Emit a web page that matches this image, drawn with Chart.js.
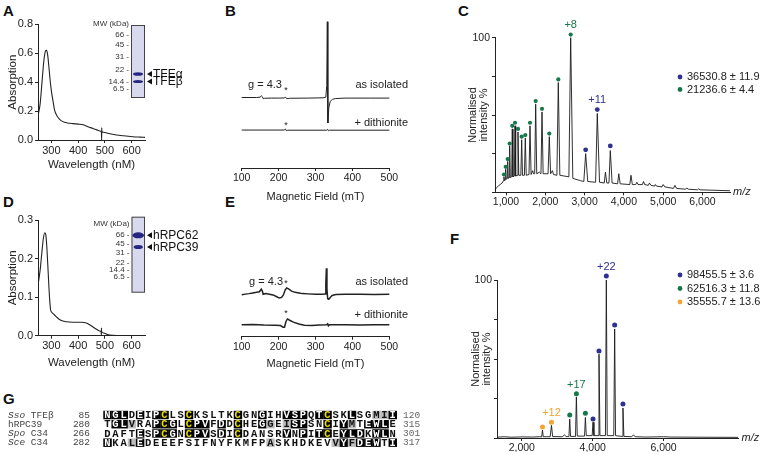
<!DOCTYPE html>
<html>
<head>
<meta charset="utf-8">
<script src="https://cdn.jsdelivr.net/npm/chart.js@4.4.0/dist/chart.umd.min.js"></script>
<style>
  body { margin: 0; background: #fff; width: 760px; height: 454px; position: relative; overflow: hidden; }
  canvas { position: absolute; }
  .lab { position: absolute; font: bold 15px 'Liberation Sans', Arial, sans-serif; line-height: 1; color: #111; }
</style>
</head>
<body>
<div class="lab" style="left:3px;top:3px">A</div>
<div class="lab" style="left:225px;top:3px">B</div>
<div class="lab" style="left:458px;top:3px">C</div>
<div class="lab" style="left:3px;top:194px">D</div>
<div class="lab" style="left:225px;top:194px">E</div>
<div class="lab" style="left:450px;top:231px">F</div>
<div class="lab" style="left:3px;top:391px">G</div>

<canvas id="chartA" width="200" height="200" style="left:0;top:0"></canvas>
<canvas id="chartB" width="220" height="210" style="left:200px;top:0"></canvas>
<canvas id="chartC" width="340" height="215" style="left:420px;top:0"></canvas>
<canvas id="chartD" width="200" height="200" style="left:0;top:200px"></canvas>
<canvas id="chartE" width="220" height="200" style="left:200px;top:200px"></canvas>
<canvas id="chartF" width="320" height="234" style="left:440px;top:220px"></canvas>
<canvas id="chartG" width="440" height="66" style="left:0;top:388px"></canvas>

<script>
// ---------- data ----------
// A / D: UV-vis absorption
const wlTicks = [300, 400, 500, 600];
const wlA = [250, 258, 265, 272, 278, 282, 286, 290, 295, 300, 306, 312, 320, 330, 343, 360, 380, 400, 420, 437,
             455, 470, 481, 487, 488, 488.3, 488.6, 495, 510, 543, 570, 605, 630, 650];
const absA = [0.166, 0.25, 0.40, 0.55, 0.615, 0.62, 0.59, 0.52, 0.42, 0.34, 0.27, 0.207, 0.17, 0.145, 0.127, 0.118, 0.113, 0.11, 0.105, 0.092,
              0.08, 0.07, 0.062, 0.059, 0.0, 0.085, 0.057, 0.054, 0.047, 0.035, 0.029, 0.023, 0.020, 0.018];
const absATicks = [0, 0.2, 0.4, 0.6, 0.8];
const wlD = [250, 258, 265, 270, 275, 279, 283, 288, 293, 297, 302, 310, 320, 335, 356, 380, 410, 431, 450, 470,
             481, 486, 487, 487.3, 487.6, 495, 510, 530, 560, 600, 650];
const absD = [0.131, 0.17, 0.22, 0.252, 0.267, 0.262, 0.23, 0.165, 0.10, 0.068, 0.060, 0.055, 0.048, 0.040, 0.036, 0.035, 0.035, 0.033, 0.025, 0.016,
              0.012, 0.011, 0.0, 0.02, 0.010, 0.007, 0.003, 0.001, 0, 0, 0];
const absDTicks = [0, 0.1, 0.2, 0.3];
const mwLabels = ['66', '45', '31', '22', '14.4', '6.5'];
const gelBandsA = ['TFE\u03b1', 'TFE\u03b2'];
const gelBandsD = ['hRPC62', 'hRPC39'];

// B / E: EPR spectra (relative signal, offset traces)
const fieldTicks = [100, 150, 200, 250, 300, 350, 400, 450, 500];
const bIsoField = [100, 140, 150, 153, 156, 158, 162, 180, 200, 215, 219, 222, 230, 280, 320, 328, 330.5, 332, 333.5, 336, 340, 346, 355, 380, 450, 500];
const bIsoSig   = [0.47, 0.47, 0.472, 0.482, 0.475, 0.462, 0.465, 0.466, 0.466, 0.467, 0.472, 0.462, 0.465, 0.466, 0.468, 0.472, 0.55, 0.975, 0.30, 0.40, 0.445, 0.458, 0.463, 0.466, 0.466, 0.466];
const bDitField = [100, 215, 218.5, 221, 225, 330, 333, 335, 338, 500];
const bDitSig   = [0.253, 0.253, 0.26, 0.249, 0.252, 0.252, 0.258, 0.248, 0.252, 0.252];
const eIsoField = [100, 110, 120, 130, 140, 148, 153, 156, 158, 165, 175, 185, 195, 202, 208, 213, 218, 222, 228, 235,
                   245, 255, 265, 280, 300, 320, 326, 328, 329.5, 331, 333, 336, 340, 345, 355, 380, 420, 460, 500];
const eIsoSig   = [0.332, 0.336, 0.34, 0.345, 0.35, 0.355, 0.375, 0.36, 0.335, 0.34, 0.335, 0.33, 0.315, 0.305, 0.31, 0.33, 0.37, 0.385, 0.375, 0.36,
                   0.35, 0.345, 0.34, 0.338, 0.335, 0.335, 0.338, 0.42, 0.54, 0.38, 0.30, 0.295, 0.31, 0.325, 0.333, 0.336, 0.335, 0.334, 0.335];
const eDitField = [100, 130, 160, 190, 205, 212, 216, 220, 224, 230, 240, 255, 270, 290, 310, 330, 333, 335, 338, 380, 420, 460, 500];
const eDitSig   = [0.094, 0.096, 0.092, 0.09, 0.088, 0.075, 0.075, 0.12, 0.14, 0.13, 0.115, 0.10, 0.09, 0.088, 0.092, 0.094, 0.102, 0.085, 0.094, 0.095, 0.093, 0.094, 0.094];

// C: native MS of TFE
const cMzTicks = [1000, 2000, 3000, 4000, 5000, 6000];
const intTicks = [0, 25, 50, 75, 100];
const cMz  = [720, 760, 800, 850, 900, 935, 948, 960, 980, 992, 1005, 1030, 1043, 1056, 1080, 1093, 1108, 1145, 1160, 1176,
              1212, 1229, 1246, 1285, 1305, 1325, 1378, 1399, 1420, 1468, 1491, 1515, 1585, 1611, 1638, 1680, 1700, 1730, 1755, 1782,
              1850, 1890, 1916, 1945, 2070, 2102, 2135, 2180, 2210, 2295, 2331, 2370, 2600, 2646, 2700, 2900, 2980, 3027, 3080, 3280,
              3323, 3380, 3500, 3530, 3565, 3620, 3654, 3700, 3840, 3870, 3905, 4150, 4180, 4215, 4300, 4330, 4360, 4470, 4500, 4530,
              4620, 4650, 4690, 4780, 4800, 4830, 4970, 5000, 5040, 5260, 5300, 5340, 5570, 5600, 5640, 5870, 5900, 5940, 6200, 6700];
const cInt = [1.5, 3, 4, 5, 6, 7.5, 10, 7.5, 8, 15, 8.5, 9, 20, 9, 9.5, 30, 9.5, 10, 41, 10,
              10.5, 43, 10.5, 11, 39, 11, 11, 34, 11, 11, 35, 11, 11.5, 43, 11.5, 14, 12, 12, 57, 12,
              13, 12, 52, 12, 12, 36, 12, 14, 11.5, 11, 71, 11, 10, 100, 9, 7.5, 7, 25, 7, 6.5,
              51, 6.5, 6, 13, 6, 6, 27, 6, 5.5, 12, 5.5, 5, 11, 5, 5, 6.5, 5, 5, 7, 5,
              4.5, 6, 4.5, 4, 5, 4, 3.5, 5, 3.5, 2.5, 4.5, 2.5, 2, 2.8, 2, 1.6, 2.2, 1.6, 1.4, 1];
const cGreenMz  = [948, 992, 1043, 1093, 1160, 1229, 1305, 1399, 1491, 1611, 1755, 1916, 2102, 2331, 2646];
const cGreenTop = [11.5, 16.5, 21.5, 31.5, 43, 45, 41, 36, 37, 45, 59, 54, 38, 73, 102];
const cBlueMz   = [3027, 3323, 3654];
const cBlueTop  = [27.5, 53.5, 30];
const cLegend = ['36530.8 \u00b1 11.9', '21236.6 \u00b1 4.4'];

// F: native MS of hRPC62/39
const fMzTicks = [2000, 4000, 6000];
const fMz  = [1300, 1500, 1700, 2000, 2300, 2500, 2560, 2583, 2605, 2800, 2837, 2870, 3150, 3200, 3250, 3330, 3352, 3375, 3515, 3540,
              3565, 3770, 3794, 3820, 3985, 4009, 4035, 4150, 4178, 4205, 4360, 4385, 4410, 4595, 4620, 4645, 4830, 4854, 4880, 5100,
              5150, 5200, 5500, 6000, 6200, 7000, 8100];
const fInt = [0.5, 0.8, 0.5, 0.7, 0.6, 0.8, 0.7, 5, 0.8, 0.8, 8, 0.9, 0.8, 2, 0.9, 0.9, 12, 1, 1, 26,
              1.2, 1.2, 13, 1.5, 1.5, 10, 1.5, 1.5, 53, 1.5, 1.5, 100, 1.5, 1.5, 69, 1.5, 1, 19, 1, 0.8,
              2, 0.8, 0.6, 0.8, 0.6, 0.5, 0.4];
const fBlueMz    = [4009, 4178, 4385, 4620, 4854];
const fBlueTop   = [12, 55, 102.5, 71.5, 21.5];
const fGreenMz   = [3352, 3540, 3794];
const fGreenTop  = [14.5, 28, 15.6];
const fOrangeMz  = [2583, 2837];
const fOrangeTop = [7, 10];
const fLegend = ['98455.5 \u00b1 3.6', '62516.3 \u00b1 11.8', '35555.7 \u00b1 13.6'];

// G: sequence alignment (b = identical, y = conserved Cys, g = similar)
const alnNames = [['Sso', ' TFE\u03b2'], ['', 'hRPC39'], ['Spo', ' C34'], ['Sce', ' C34']];
const alnStart = [85, 280, 266, 282];
const alnEnd = [120, 315, 301, 317];
const alnSeq = [
  'NGLDEIPCLSCKSLTKCGNGIHVSPQTCSKLSGMII',
  'TGLVRAPCGLCPVFDDCHEGGEISPSNCIYMTEWLE',
  'DAFTESPCGNCPVSDICDANSRVNPITCEYLDKWLN',
  'NKALEDEEEFSIFNYFKMFPASKHDKEVVYFDEWTI'
];
const alnShade = [
  'bbb.b.by..y.....y..b..bbb.by..b..ggb',
  '.bbg..byb.ybb.b.y..bg.gbb..y.bg.bbb.',
  '....b.byb.ybb.b.y.....b.b.by.bbb.bb.',
  'b..gb...............g.......gbgbbb.b'
];

// ---------- helpers ----------
const INK = '#222';
const BLUE = '#2e3192';
const GREEN = '#16784a';
const ORANGE = '#f5a332';
const SANS = "'Liberation Sans', Arial, sans-serif";
Chart.defaults.font.family = SANS;
Chart.defaults.color = INK;

const fixW = w => s => { s.width = w; };
const fixH = h => s => { s.height = h; };
const setTicks = arr => s => { s.ticks = arr.map(v => ({ value: v })); };
const xy = (xs, ys) => xs.map((x, i) => ({ x, y: ys[i] }));
const axisGrid = { drawOnChartArea: false, drawTicks: true, tickLength: 3, color: INK, lineWidth: 1 };
const axisBorder = { display: true, color: INK, width: 1 };
const baseOpts = { responsive: false, animation: false, devicePixelRatio: 1 };

// free text / dots placed by data value (x, y) or by pixel (px, py)
const notesPlugin = {
  id: 'notes',
  afterDatasetsDraw(chart, args, opts) {
    const ctx = chart.ctx, xs = chart.scales.x, ys = chart.scales.y;
    (opts.items || []).forEach(n => {
      const px = n.px !== undefined ? n.px : xs.getPixelForValue(n.x);
      const py = n.py !== undefined ? n.py : ys.getPixelForValue(n.y);
      ctx.save();
      ctx.fillStyle = n.color || INK;
      if (n.dot) {
        ctx.beginPath(); ctx.arc(px, py, n.dot, 0, Math.PI * 2); ctx.fill();
      } else {
        ctx.font = n.font || ('11px ' + SANS);
        ctx.textAlign = n.align || 'center';
        ctx.textBaseline = 'middle';
        ctx.fillText(n.text, px, py);
      }
      ctx.restore();
    });
  }
};

// SDS-PAGE inset
function gelPlugin(g) {
  return {
    id: 'gel',
    afterDraw(chart) {
      const ctx = chart.ctx;
      ctx.save();
      ctx.fillStyle = '#d8d8ee';
      ctx.fillRect(g.x, g.y, g.w, g.h);
      ctx.strokeStyle = '#444';
      ctx.lineWidth = 1;
      ctx.strokeRect(g.x + 0.5, g.y + 0.5, g.w - 1, g.h - 1);
      ctx.fillStyle = '#333';
      ctx.font = '8px ' + SANS;
      ctx.textAlign = 'right';
      ctx.textBaseline = 'middle';
      ctx.fillText('MW (kDa)', g.x - 2, g.mwTitleY);
      mwLabels.forEach((m, i) => ctx.fillText(m + ' -', g.x - 2, g.mwY[i]));
      g.bands.forEach((b, i) => {
        ctx.fillStyle = '#262680';
        ctx.beginPath();
        ctx.ellipse(g.x + g.w / 2, b.y, b.rx, b.ry, 0, 0, Math.PI * 2);
        ctx.fill();
        const ax = g.x + g.w + 2;
        ctx.fillStyle = '#111';
        ctx.beginPath();
        ctx.moveTo(ax, b.y); ctx.lineTo(ax + 5, b.y - 3); ctx.lineTo(ax + 5, b.y + 3); ctx.closePath();
        ctx.fill();
        ctx.font = '12px ' + SANS;
        ctx.textAlign = 'left';
        ctx.fillText(g.names[i], ax + 6, b.y + 0.5);
      });
      ctx.restore();
    }
  };
}

function absChart(id, xs, ys, yMax, yTicks, pad, xAxisH, gel) {
  return new Chart(document.getElementById(id), {
    type: 'line',
    data: { datasets: [{ data: xy(xs, ys), borderColor: INK, borderWidth: 1.1, pointRadius: 0, cubicInterpolationMode: 'monotone' }] },
    options: {
      ...baseOpts,
      layout: { padding: pad },
      plugins: { legend: { display: false }, tooltip: { enabled: false } },
      scales: {
        x: {
          type: 'linear', min: 250, max: 650, afterBuildTicks: setTicks(wlTicks), afterFit: fixH(xAxisH),
          grid: axisGrid, border: axisBorder,
          ticks: { font: { size: 11 }, color: INK, padding: 1, maxRotation: 0, callback: v => String(v) },
          title: { display: true, text: 'Wavelength (nM)', font: { size: 11.5 }, color: INK, padding: { top: 0, bottom: 4 } }
        },
        y: {
          min: 0, max: yMax, afterBuildTicks: setTicks(yTicks), afterFit: fixW(36.5),
          grid: axisGrid, border: axisBorder,
          ticks: { font: { size: 11 }, color: INK, padding: 2, callback: v => v.toFixed(1) },
          title: { display: true, text: 'Absorption', font: { size: 11.5 }, color: INK, padding: { top: 4, bottom: 0 } }
        }
      }
    },
    plugins: [gelPlugin(gel)]
  });
}

function eprChart(id, traces, pad, xAxisH, notes) {
  return new Chart(document.getElementById(id), {
    type: 'line',
    data: { datasets: traces.map(t => ({ data: xy(t.f, t.s), borderColor: INK, borderWidth: t.w, pointRadius: 0, tension: 0, clip: false })) },
    options: {
      ...baseOpts,
      layout: { padding: pad },
      plugins: { legend: { display: false }, tooltip: { enabled: false }, notes: { items: notes } },
      scales: {
        x: {
          type: 'linear', min: 100, max: 500, afterBuildTicks: setTicks(fieldTicks), afterFit: fixH(xAxisH),
          grid: axisGrid, border: axisBorder,
          ticks: { font: { size: 10.5 }, color: INK, padding: 1, maxRotation: 0, callback: v => (v % 100 === 0 ? String(v) : '') },
          title: { display: true, text: 'Magnetic Field (mT)', font: { size: 11 }, color: INK, padding: { top: 0, bottom: 4 } }
        },
        y: { display: false, min: 0, max: 1 }
      }
    },
    plugins: [notesPlugin]
  });
}

function msChart(id, spec, dots, xMin, xMax, xTicks, pad, yAxisW, xAxisH, notes) {
  const sets = dots.map(d => ({
    data: xy(d.mz, d.top), showLine: false, pointRadius: d.r, pointBackgroundColor: d.color,
    pointBorderColor: d.color, pointBorderWidth: 0, order: 1, clip: false
  }));
  sets.push({ data: xy(spec.mz, spec.int), borderColor: '#1a1a1a', borderWidth: 0.9, pointRadius: 0, tension: 0, order: 2, clip: false });
  return new Chart(document.getElementById(id), {
    type: 'line',
    data: { datasets: sets },
    options: {
      ...baseOpts,
      layout: { padding: pad },
      plugins: { legend: { display: false }, tooltip: { enabled: false }, notes: { items: notes } },
      scales: {
        x: {
          type: 'linear', min: xMin, max: xMax, afterBuildTicks: setTicks(xTicks), afterFit: fixH(xAxisH),
          grid: axisGrid, border: axisBorder,
          ticks: { font: { size: 10.5 }, color: INK, padding: 1, maxRotation: 0, callback: v => v.toLocaleString('en-US') }
        },
        y: {
          min: 0, max: 100, afterBuildTicks: setTicks(intTicks), afterFit: fixW(yAxisW),
          grid: axisGrid, border: axisBorder,
          ticks: { font: { size: 10.5 }, color: INK, padding: 2, callback: v => (v === 100 ? '100' : '') },
          title: { display: true, text: ['Normalised', 'intensity %'], font: { size: 11, lineHeight: 1.0 }, color: INK, padding: { top: 4, bottom: 0 } }
        }
      }
    },
    plugins: [notesPlugin]
  });
}

// ---------- A ----------
absChart('chartA', wlA, absA, 0.8, absATicks, { left: 1.5, top: 24.3, right: 55, bottom: 24.1 }, 35.9, {
  x: 131, y: 25, w: 14, h: 73, mwTitleY: 24, mwY: [35, 44.3, 57, 70, 81.5, 88.3],
  bands: [{ y: 74, rx: 5, ry: 1.8 }, { y: 81.5, rx: 5, ry: 1.6 }], names: gelBandsA
});

// ---------- D ----------
absChart('chartD', wlD, absD, 0.3, absDTicks, { left: 1.5, top: 20, right: 55, bottom: 25.8 }, 38.5, {
  x: 131.5, y: 16.7, w: 13.5, h: 76, mwTitleY: 24, mwY: [34.3, 43.3, 52.3, 62.3, 70, 76.7],
  bands: [{ y: 35.3, rx: 5.8, ry: 3 }, { y: 47, rx: 4.6, ry: 2 }], names: gelBandsD
});

// ---------- B ----------
eprChart('chartB',
  [{ f: bIsoField, s: bIsoSig, w: 1 }, { f: bDitField, s: bDitSig, w: 1 }],
  { left: 41.7, top: 18, right: 30.7, bottom: 2.4 }, 39.6,
  [
    { text: 'g = 4.3', x: 163, y: 0.553 },
    { text: '*', x: 220, y: 0.515, font: '9px ' + SANS },
    { text: 'as isolated', x: 550.7, y: 0.553, align: 'right' },
    { text: '+ dithionite', x: 550.7, y: 0.30, align: 'right' },
    { text: '*', x: 220, y: 0.282, font: '9px ' + SANS }
  ]);

// ---------- E ----------
eprChart('chartE',
  [{ f: eIsoField, s: eIsoSig, w: 1.5 }, { f: eDitField, s: eDitSig, w: 1.5 }],
  { left: 41.7, top: 10, right: 30.7, bottom: 25.4 }, 37.9,
  [
    { text: 'g = 4.3', x: 166, y: 0.434 },
    { text: '*', x: 220, y: 0.42, font: '9px ' + SANS },
    { text: 'as isolated', x: 550.7, y: 0.432, align: 'right' },
    { text: '+ dithionite', x: 550.7, y: 0.171, align: 'right' },
    { text: '*', x: 220, y: 0.18, font: '9px ' + SANS }
  ]);

// ---------- C ----------
msChart('chartC', { mz: cMz, int: cInt },
  [{ mz: cBlueMz, top: cBlueTop, r: 2.4, color: BLUE }, { mz: cGreenMz, top: cGreenTop, r: 2.1, color: GREEN }],
  720, 6700, cMzTicks, { left: 43.2, top: 37.7, right: 30, bottom: 2.7 }, 31.8, 20,
  [
    { text: '+8', x: 2646, y: 108.5, color: GREEN },
    { text: '+11', x: 3323, y: 60, color: BLUE },
    { text: 'm/z', px: 313, py: 192.3, align: 'left', font: 'italic 11px ' + SANS },
    { dot: 2.4, px: 260, py: 77, color: BLUE },
    { dot: 2.4, px: 260, py: 89.5, color: GREEN },
    { text: cLegend[0], px: 267, py: 77, align: 'left' },
    { text: cLegend[1], px: 267, py: 89.5, align: 'left' }
  ]);

// ---------- F ----------
msChart('chartF', { mz: fMz, int: fInt },
  [{ mz: fBlueMz, top: fBlueTop, r: 2.5, color: BLUE }, { mz: fGreenMz, top: fGreenTop, r: 2.5, color: GREEN },
   { mz: fOrangeMz, top: fOrangeTop, r: 2.5, color: ORANGE }],
  1300, 8100, fMzTicks, { left: 26.9, top: 60, right: 22, bottom: 2 }, 30.1, 14,
  [
    { text: '+22', x: 4385, y: 108.5, color: BLUE },
    { text: '+17', x: 3540, y: 33.5, color: GREEN },
    { text: '+12', x: 2837, y: 16, color: ORANGE },
    { text: 'm/z', px: 301.5, py: 218, align: 'left', font: 'italic 11px ' + SANS },
    { dot: 2.4, px: 240, py: 55, color: BLUE },
    { dot: 2.4, px: 240, py: 68.5, color: GREEN },
    { dot: 2.4, px: 240, py: 82, color: ORANGE },
    { text: fLegend[0], px: 247, py: 55, align: 'left' },
    { text: fLegend[1], px: 247, py: 68.5, align: 'left' },
    { text: fLegend[2], px: 247, py: 82, align: 'left' }
  ]);

// ---------- G ----------
const alignPlugin = {
  id: 'align',
  afterDatasetsDraw(chart) {
    const ctx = chart.ctx, xs = chart.scales.x, ys = chart.scales.y;
    const cw = xs.getPixelForValue(0.5) - xs.getPixelForValue(-0.5);
    const ch = Math.abs(ys.getPixelForValue(0.5) - ys.getPixelForValue(-0.5));
    ctx.save();
    ctx.textBaseline = 'middle';
    alnSeq.forEach((seq, r) => {
      const cy = ys.getPixelForValue(r);
      [...seq].forEach((aa, c) => {
        const cx = xs.getPixelForValue(c);
        const sh = alnShade[r][c];
        let fg = '#111';
        if (sh === 'b' || sh === 'y') {
          ctx.fillStyle = '#000';
          ctx.fillRect(cx - cw / 2, cy - ch / 2 + 0.4, cw + 0.3, ch - 0.8);
          fg = sh === 'y' ? '#e8e000' : '#fff';
        } else if (sh === 'g') {
          ctx.fillStyle = '#bdbdbd';
          ctx.fillRect(cx - cw / 2, cy - ch / 2 + 0.4, cw + 0.3, ch - 0.8);
        }
        ctx.fillStyle = fg;
        ctx.font = "bold 10.5px 'Liberation Mono', monospace";
        ctx.textAlign = 'center';
        ctx.fillText(aa, cx, cy + 0.5);
      });
      // name, start and end positions
      ctx.fillStyle = '#444';
      ctx.textAlign = 'left';
      let nx = 8;
      if (alnNames[r][0]) {
        ctx.font = "italic 9.5px 'Liberation Mono', monospace";
        ctx.fillText(alnNames[r][0], nx, cy);
        nx += ctx.measureText(alnNames[r][0]).width;
      }
      ctx.font = "9.5px 'Liberation Mono', monospace";
      ctx.fillText(alnNames[r][1], nx, cy);
      ctx.textAlign = 'right';
      ctx.fillText(String(alnStart[r]), 90, cy);
      ctx.fillStyle = '#666';
      ctx.textAlign = 'left';
      ctx.fillText(String(alnEnd[r]), 403, cy);
    });
    ctx.restore();
  }
};
const alnCells = [];
alnSeq.forEach((s, r) => [...s].forEach((aa, c) => alnCells.push({ x: c, y: r })));
new Chart(document.getElementById('chartG'), {
  type: 'scatter',
  data: { datasets: [{ data: alnCells, pointRadius: 0 }] },
  options: {
    ...baseOpts,
    layout: { padding: { left: 103.3, right: 43.3, top: 22.4, bottom: 6.7 } },
    plugins: { legend: { display: false }, tooltip: { enabled: false } },
    scales: {
      x: { display: false, min: -0.5, max: 35.5 },
      y: { display: false, min: -0.5, max: 3.5, reverse: true }
    }
  },
  plugins: [alignPlugin]
});
</script>
</body>
</html>
